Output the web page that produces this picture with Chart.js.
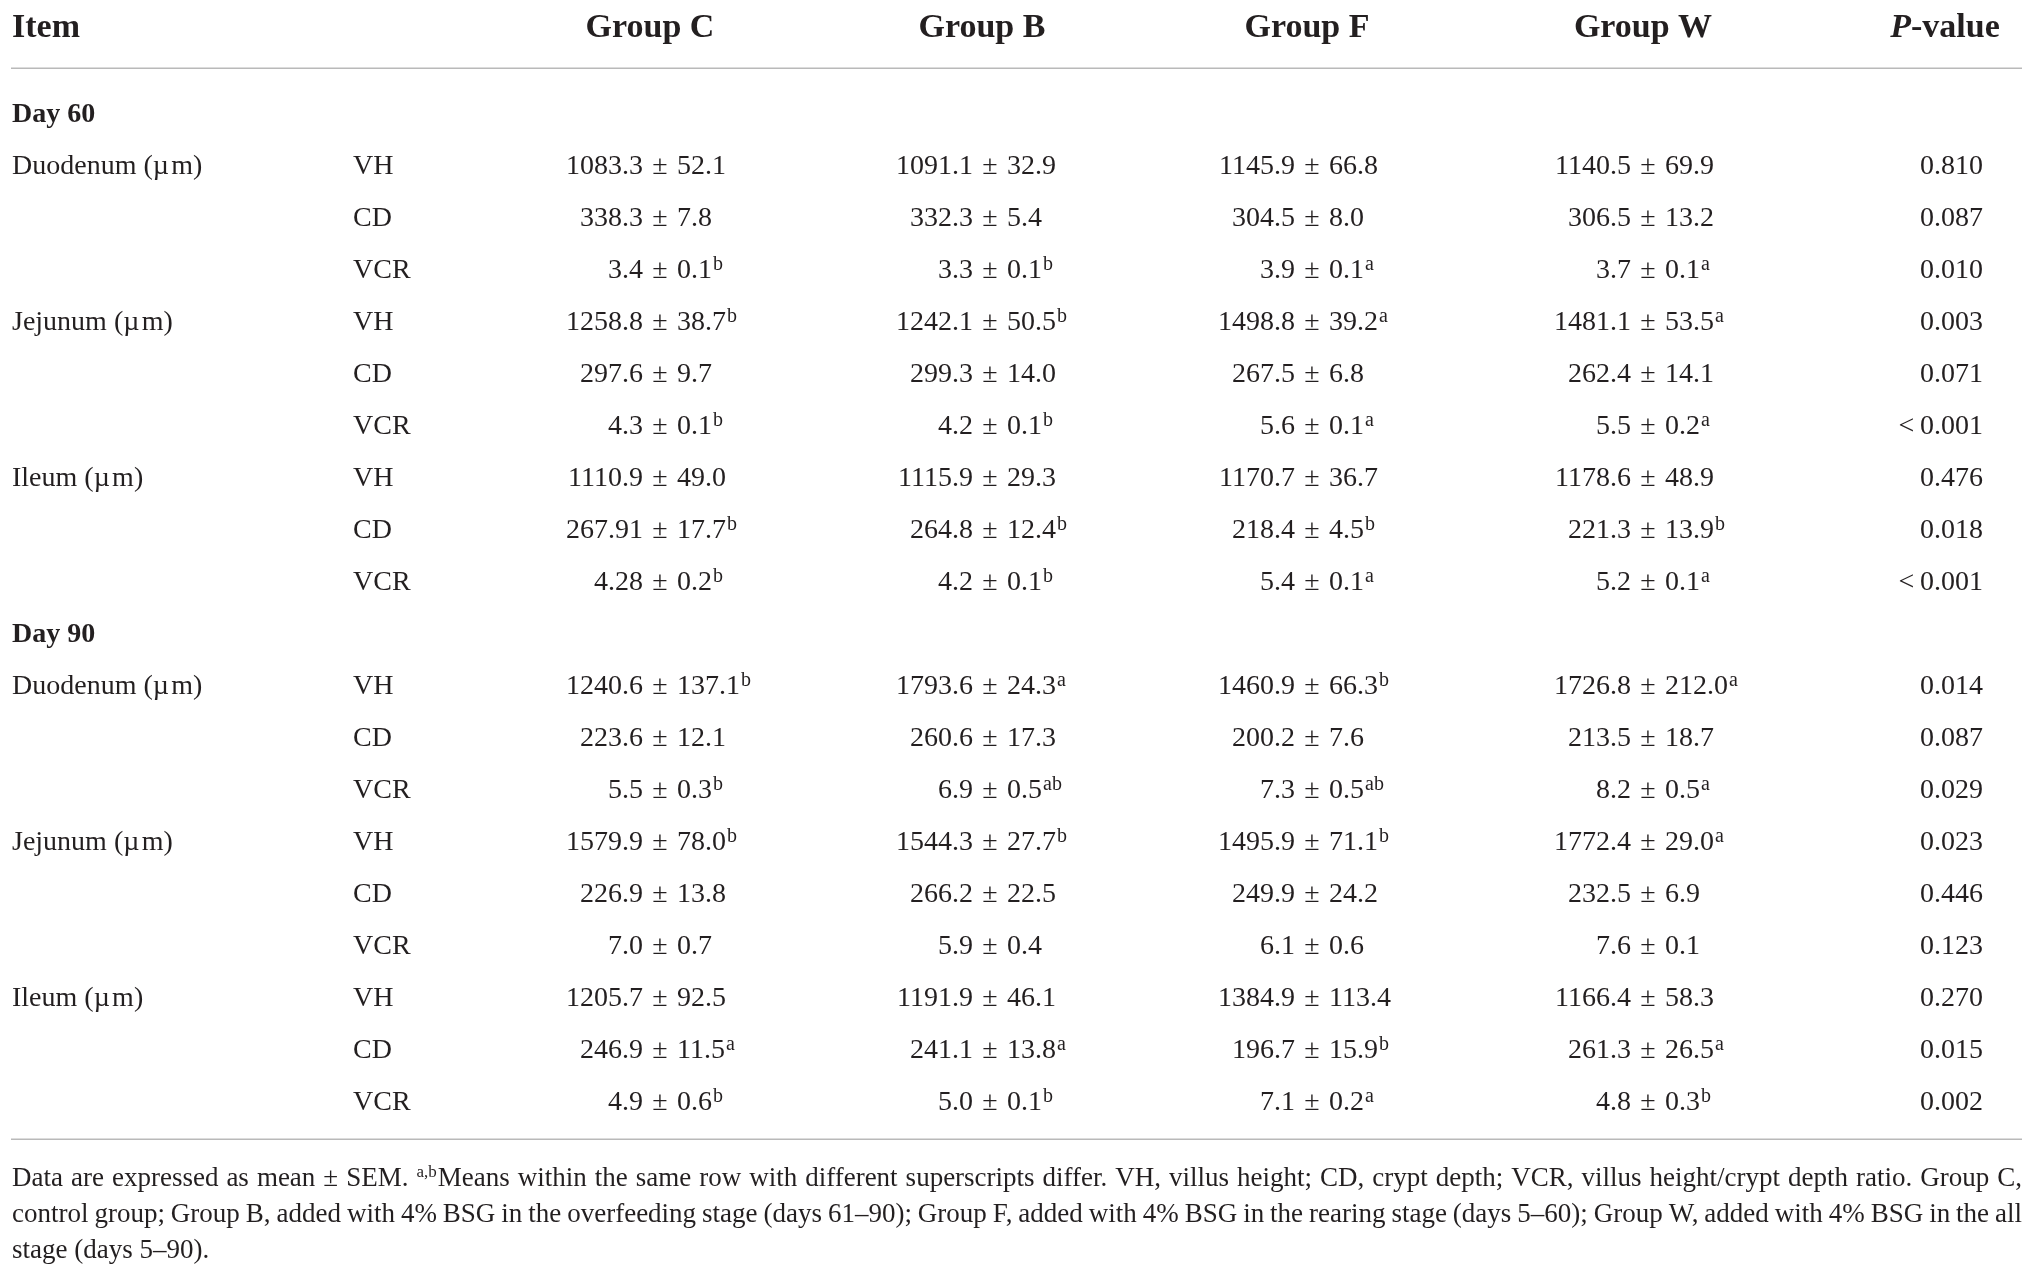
<!DOCTYPE html>
<html>
<head>
<meta charset="utf-8">
<script src="https://cdn.jsdelivr.net/npm/chart.js@4"></script>
<style>
html,body{margin:0;padding:0;background:#ffffff;overflow:hidden}
#wrap{width:2031px;height:1279px}
</style>
</head>
<body>
<div id="wrap"><canvas id="c" width="2031" height="1279"></canvas></div>
<script>
// ---------------- DATA ----------------
const columnHeaders = ['Item', 'Group C', 'Group B', 'Group F', 'Group W', 'P-value'];
const sectionLabels = ['Day 60', 'Day 90'];
const segmentLabels = ['Duodenum (µ\u200Am)', 'Jejunum (µ\u200Am)', 'Ileum (µ\u200Am)'];
const measureLabels = ['VH', 'CD', 'VCR'];
// 18 rows: Day 60 (Duodenum VH, CD, VCR; Jejunum VH, CD, VCR; Ileum VH, CD, VCR), then Day 90 in the same order
const groupCMean = ['1083.3','338.3','3.4','1258.8','297.6','4.3','1110.9','267.91','4.28','1240.6','223.6','5.5','1579.9','226.9','7.0','1205.7','246.9','4.9'];
const groupCSem  = ['52.1','7.8','0.1','38.7','9.7','0.1','49.0','17.7','0.2','137.1','12.1','0.3','78.0','13.8','0.7','92.5','11.5','0.6'];
const groupCSup  = ['','','b','b','','b','','b','b','b','','b','b','','','','a','b'];
const groupBMean = ['1091.1','332.3','3.3','1242.1','299.3','4.2','1115.9','264.8','4.2','1793.6','260.6','6.9','1544.3','266.2','5.9','1191.9','241.1','5.0'];
const groupBSem  = ['32.9','5.4','0.1','50.5','14.0','0.1','29.3','12.4','0.1','24.3','17.3','0.5','27.7','22.5','0.4','46.1','13.8','0.1'];
const groupBSup  = ['','','b','b','','b','','b','b','a','','ab','b','','','','a','b'];
const groupFMean = ['1145.9','304.5','3.9','1498.8','267.5','5.6','1170.7','218.4','5.4','1460.9','200.2','7.3','1495.9','249.9','6.1','1384.9','196.7','7.1'];
const groupFSem  = ['66.8','8.0','0.1','39.2','6.8','0.1','36.7','4.5','0.1','66.3','7.6','0.5','71.1','24.2','0.6','113.4','15.9','0.2'];
const groupFSup  = ['','','a','a','','a','','b','a','b','','ab','b','','','','b','a'];
const groupWMean = ['1140.5','306.5','3.7','1481.1','262.4','5.5','1178.6','221.3','5.2','1726.8','213.5','8.2','1772.4','232.5','7.6','1166.4','261.3','4.8'];
const groupWSem  = ['69.9','13.2','0.1','53.5','14.1','0.2','48.9','13.9','0.1','212.0','18.7','0.5','29.0','6.9','0.1','58.3','26.5','0.3'];
const groupWSup  = ['','','a','a','','a','','b','a','a','','a','a','','','','a','b'];
const pValues    = ['0.810','0.087','0.010','0.003','0.071','<\u20090.001','0.476','0.018','<\u20090.001','0.014','0.087','0.029','0.023','0.446','0.123','0.270','0.015','0.002'];
const footnoteLines = [
  'Data are expressed as mean ± SEM. {a,b}Means within the same row with different superscripts differ. VH, villus height; CD, crypt depth; VCR, villus height/crypt depth ratio. Group C,',
  'control group; Group B, added with 4% BSG in the overfeeding stage (days 61\u201390); Group F, added with 4% BSG in the rearing stage (days 5\u201360); Group W, added with 4% BSG in the all',
  'stage (days 5\u201390).'
];

// ---------------- LAYOUT / STYLE ----------------
const W = 2031, H = 1279;
const FONT = '"Liberation Serif", "DejaVu Serif", serif';
const INK = '#231f20';
const RULE = '#b9b9b9';
const LEFT = 12, RIGHT = 2022;
const HEADER_Y = 26;
const FIRST_ROW_Y = 113, ROW_STEP = 52;
const TOP_RULE_Y = 68, BOTTOM_RULE_Y = 1139;
const headerX = [12, 650, 982, 1307, 1643, 1945];
const pmX = [660, 990, 1312, 1648];     // x of the ± sign in each group column
const PM_GAP = 17;
const measureX = 353;
const pRightX = 1983;
const footBaselines = [1186, 1222, 1258];
const BODY_SIZE = 28, HEAD_SIZE = 34, SECT_SIZE = 28, SUP_SIZE = 20, SUP_RISE = 8, FOOT_SIZE = 27, FOOT_SUP = 17;

function tableRow(k) { return k < 9 ? 1 + k : 2 + k; }
function rowY(r) { return FIRST_ROW_Y + ROW_STEP * r; }

const groupMeans = [groupCMean, groupBMean, groupFMean, groupWMean];
const groupSems = [groupCSem, groupBSem, groupFSem, groupWSem];
const groupSups = [groupCSup, groupBSup, groupFSup, groupWSup];

const datasets = [];
datasets.push({ kind: 'header', texts: columnHeaders,
  data: columnHeaders.map((t, i) => ({ x: headerX[i], y: HEADER_Y })) });
datasets.push({ kind: 'section', texts: sectionLabels,
  data: sectionLabels.map((t, i) => ({ x: LEFT, y: rowY(i * 10) })) });
const segTexts = [], segPts = [];
sectionLabels.forEach((s, d) => segmentLabels.forEach((g, i) => {
  segTexts.push(g); segPts.push({ x: LEFT, y: rowY(tableRow(d * 9 + i * 3)) });
}));
datasets.push({ kind: 'segment', texts: segTexts, data: segPts });
const measTexts = [], measPts = [];
for (let k = 0; k < 18; k++) {
  measTexts.push(measureLabels[k % 3]);
  measPts.push({ x: measureX, y: rowY(tableRow(k)) });
}
datasets.push({ kind: 'measure', texts: measTexts, data: measPts });
groupMeans.forEach((means, g) => {
  datasets.push({ kind: 'value', means: means, sems: groupSems[g], sups: groupSups[g],
    data: means.map((m, k) => ({ x: pmX[g], y: rowY(tableRow(k)) })) });
});
datasets.push({ kind: 'p', texts: pValues,
  data: pValues.map((p, k) => ({ x: pRightX, y: rowY(tableRow(k)) })) });
datasets.forEach(d => { d.pointRadius = 0; d.pointHoverRadius = 0; d.showLine = false; });

function capOff(size) { return size * 0.33; }

const tablePlugin = {
  id: 'tableText',
  afterDraw(chart) {
    const ctx = chart.ctx;
    const xs = chart.scales.x, ys = chart.scales.y;
    ctx.save();
    ctx.fillStyle = INK;
    ctx.textBaseline = 'alphabetic';

    // rules
    ctx.strokeStyle = RULE;
    ctx.lineWidth = 1.5;
    [TOP_RULE_Y, BOTTOM_RULE_Y].forEach(v => {
      const py = Math.round(ys.getPixelForValue(v)) + 0.25;
      ctx.beginPath();
      ctx.moveTo(xs.getPixelForValue(LEFT - 1), py);
      ctx.lineTo(xs.getPixelForValue(RIGHT), py);
      ctx.stroke();
    });

    chart.data.datasets.forEach((ds, i) => {
      const meta = chart.getDatasetMeta(i);
      meta.data.forEach((el, j) => {
        const x = el.x, y = el.y;
        if (ds.kind === 'header') {
          const t = ds.texts[j];
          const base = y + capOff(HEAD_SIZE);
          if (j === 0) {
            ctx.font = `bold ${HEAD_SIZE}px ${FONT}`;
            ctx.textAlign = 'left';
            ctx.fillText(t, x, base);
          } else if (t.startsWith('P-')) {
            const fi = `italic bold ${HEAD_SIZE}px ${FONT}`;
            const fb = `bold ${HEAD_SIZE}px ${FONT}`;
            ctx.font = fi; const w1 = ctx.measureText('P').width;
            ctx.font = fb; const w2 = ctx.measureText(t.slice(1)).width;
            let sx = x - (w1 + w2) / 2;
            ctx.textAlign = 'left';
            ctx.font = fi; ctx.fillText('P', sx, base);
            ctx.font = fb; ctx.fillText(t.slice(1), sx + w1, base);
          } else {
            ctx.font = `bold ${HEAD_SIZE}px ${FONT}`;
            ctx.textAlign = 'center';
            ctx.fillText(t, x, base);
          }
        } else if (ds.kind === 'section') {
          ctx.font = `bold ${SECT_SIZE}px ${FONT}`;
          ctx.textAlign = 'left';
          ctx.fillText(ds.texts[j], x, y + capOff(SECT_SIZE));
        } else if (ds.kind === 'segment' || ds.kind === 'measure') {
          ctx.font = `${BODY_SIZE}px ${FONT}`;
          ctx.textAlign = 'left';
          ctx.fillText(ds.texts[j], x, y + capOff(BODY_SIZE));
        } else if (ds.kind === 'p') {
          ctx.font = `${BODY_SIZE}px ${FONT}`;
          ctx.textAlign = 'right';
          ctx.fillText(ds.texts[j], x, y + capOff(BODY_SIZE));
        } else if (ds.kind === 'value') {
          const base = y + capOff(BODY_SIZE);
          ctx.font = `${BODY_SIZE}px ${FONT}`;
          ctx.textAlign = 'center';
          ctx.fillText('±', x, base);
          ctx.textAlign = 'right';
          ctx.fillText(ds.means[j], x - PM_GAP, base);
          ctx.textAlign = 'left';
          ctx.fillText(ds.sems[j], x + PM_GAP, base);
          const sw = ctx.measureText(ds.sems[j]).width;
          if (ds.sups[j]) {
            ctx.font = `${SUP_SIZE}px ${FONT}`;
            ctx.fillText(ds.sups[j], x + PM_GAP + sw + 1, base - SUP_RISE);
          }
        }
      });
    });

    // footnote (justified)
    footnoteLines.forEach((line, li) => {
      const base = ys.getPixelForValue(footBaselines[li]);
      const words = line.split(' ');
      const parts = words.map(w => {
        const m = w.match(/^\{([^}]*)\}(.*)$/);
        return m ? { sup: m[1], txt: m[2] } : { sup: '', txt: w };
      });
      const widths = parts.map(p => {
        ctx.font = `${FOOT_SUP}px ${FONT}`;
        const a = p.sup ? ctx.measureText(p.sup).width + 1 : 0;
        ctx.font = `${FOOT_SIZE}px ${FONT}`;
        return a + ctx.measureText(p.txt).width;
      });
      ctx.font = `${FOOT_SIZE}px ${FONT}`;
      const spaceW = ctx.measureText(' ').width;
      const total = widths.reduce((a, b) => a + b, 0);
      const left = xs.getPixelForValue(LEFT), right = xs.getPixelForValue(RIGHT);
      let gap = spaceW;
      if (li < footnoteLines.length - 1 && parts.length > 1) gap = (right - left - total) / (parts.length - 1);
      let cx = left;
      ctx.textAlign = 'left';
      parts.forEach((p, k) => {
        if (p.sup) {
          ctx.font = `${FOOT_SUP}px ${FONT}`;
          ctx.fillText(p.sup, cx, base - 9);
          cx += ctx.measureText(p.sup).width + 1;
        }
        ctx.font = `${FOOT_SIZE}px ${FONT}`;
        ctx.fillText(p.txt, cx, base);
        cx += ctx.measureText(p.txt).width + gap;
      });
    });
    ctx.restore();
  }
};

new Chart(document.getElementById('c'), {
  type: 'scatter',
  data: { datasets: datasets },
  options: {
    responsive: false,
    animation: false,
    events: [],
    layout: { padding: 0 },
    plugins: { legend: { display: false }, tooltip: { enabled: false } },
    scales: {
      x: { type: 'linear', display: false, min: 0, max: W },
      y: { type: 'linear', display: false, min: 0, max: H, reverse: true }
    }
  },
  plugins: [tablePlugin]
});
</script>
</body>
</html>
